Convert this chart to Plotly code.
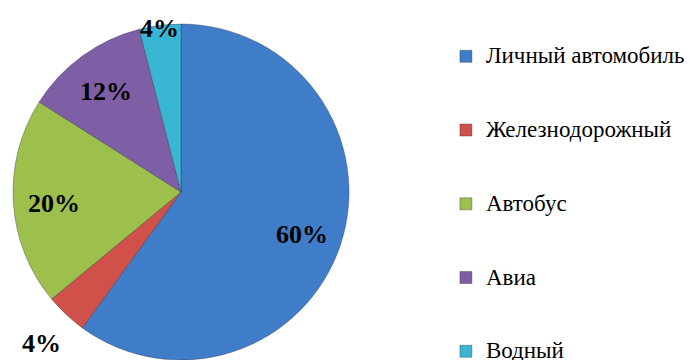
import math
import plotly.graph_objects as go

# transport mode shares, %
modes = ["Личный автомобиль", "Железнодорожный", "Автобус", "Авиа", "Водный"]
shares = [60, 4, 20, 12, 4]
colors = ["#3F7DC8", "#D0504A", "#9DC04C", "#7E5FA6", "#39B6D2"]

W, H = 694, 360
SERIF = "Liberation Serif"
LEG_BASE = 18.14   # sets legend row pitch (3 lines per row)
LEG_TEXT = 23      # visible legend text size
# label distance from centre, as a fraction of the radius (Excel "best fit" look)
LABEL_R = [0.76, 1.21, 0.76, 0.76, 1.0]

# legend labels: bigger span for the name, blank lines below to space rows apart
legend_labels = []
for i, m in enumerate(modes):
    lab = f'<span style="font-size:{LEG_TEXT}px">{m}</span>'
    if i < len(modes) - 1:
        lab += "<br> <br> "
    legend_labels.append(lab)

# pie centre / radius in figure pixels (page body adds 8px)
cx, cy, r = 173, 184, 168

fig = go.Figure(go.Pie(
    labels=legend_labels,
    values=shares,
    sort=False,
    direction="clockwise",
    rotation=0,
    marker=dict(colors=colors, line=dict(color="rgba(40,40,60,0.35)", width=1)),
    textinfo="none",
    automargin=False,
    domain=dict(x=[(cx - r) / W, (cx + r) / W], y=[(H - cy - r) / H, (H - cy + r) / H]),
    hoverinfo="percent",
))

# percentage labels placed at each slice's mid angle
total = sum(shares)
start = 0.0
for v, k in zip(shares, LABEL_R):
    mid = (start + v / 2) / total * 2 * math.pi
    start += v
    px_x = cx + k * r * math.sin(mid)
    px_y = cy - k * r * math.cos(mid)
    fig.add_annotation(
        x=px_x / W, y=1 - px_y / H, xref="paper", yref="paper",
        xanchor="center", yanchor="middle", yshift=-3,
        text=f"{v}%", showarrow=False,
        font=dict(family=SERIF, size=26, color="black", weight="bold"),
    )

fig.update_layout(
    width=W,
    height=H,
    margin=dict(t=0, b=0, l=0, r=0, autoexpand=False),
    paper_bgcolor="white",
    font=dict(family=SERIF, color="black"),
    showlegend=True,
    legend=dict(
        x=0.631,
        xanchor="left",
        y=1 - 30 / H,
        yanchor="top",
        valign="top",
        font=dict(size=LEG_BASE, family=SERIF, color="black"),
        bgcolor="rgba(0,0,0,0)",
    ),
)

fig.write_html("out.html")
